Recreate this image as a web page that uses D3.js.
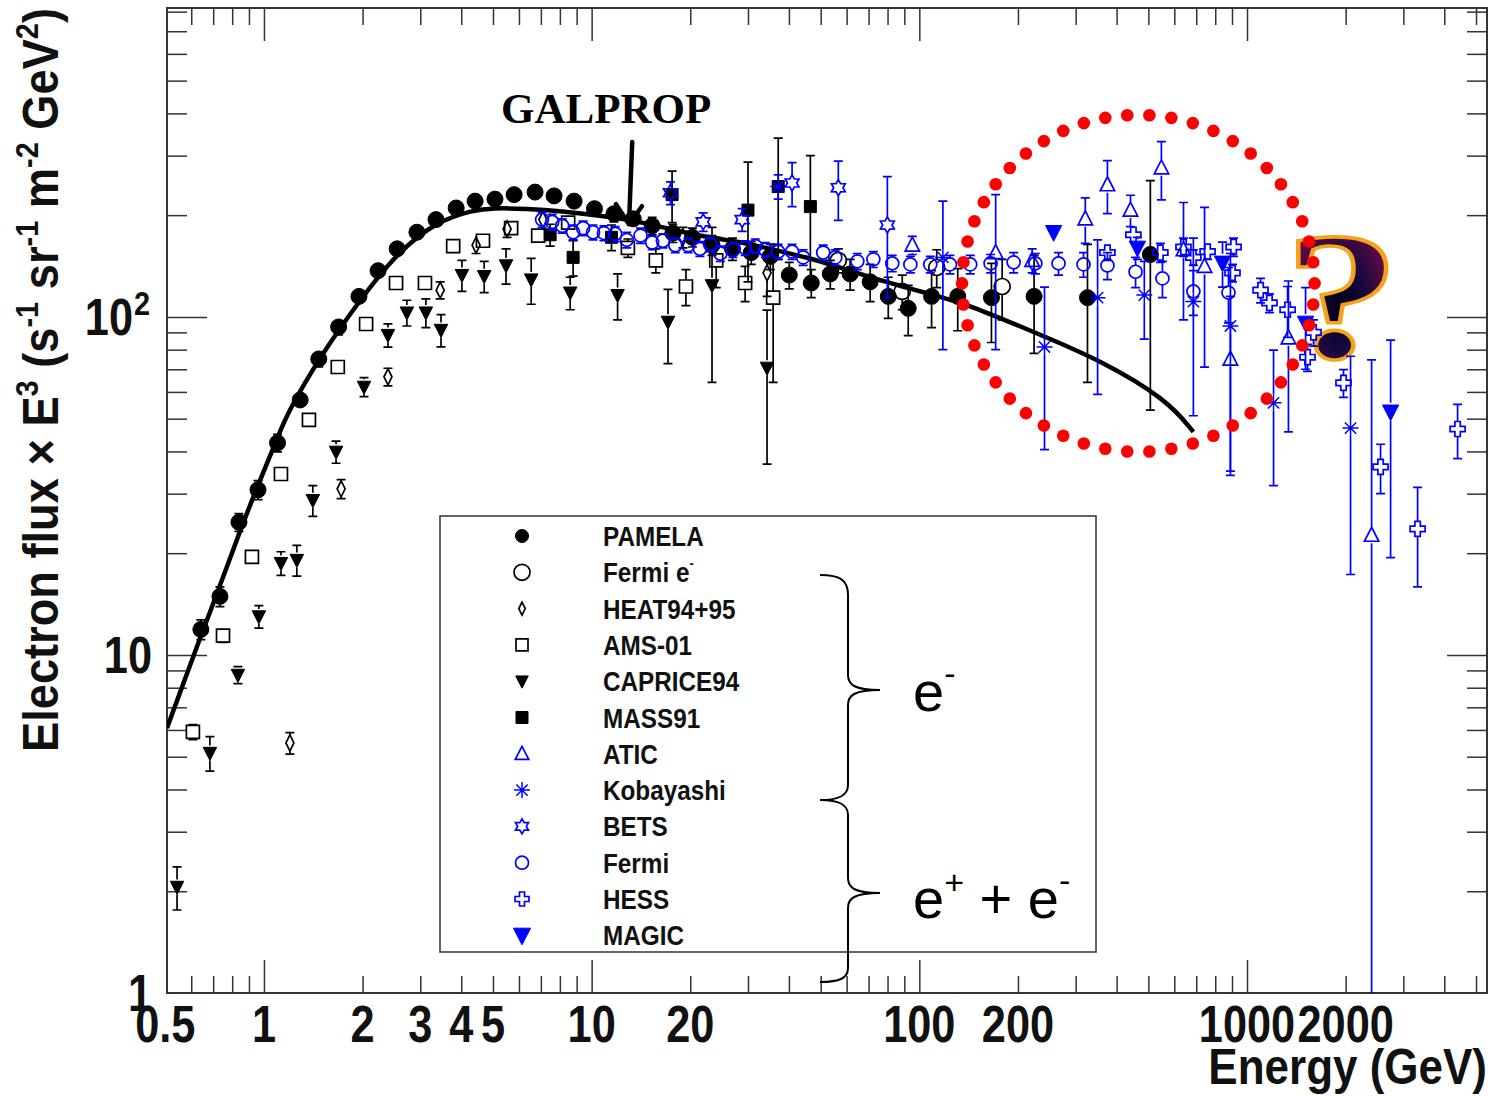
<!DOCTYPE html>
<html><head><meta charset="utf-8">
<script src="https://cdn.jsdelivr.net/npm/d3@7"></script>
<style>body{margin:0;background:#fff}svg{display:block}</style>
</head><body>
<svg id="c" width="1493" height="1097"></svg>
<script>
// ---------------- DATA ----------------
const xMajorTicks=[1,10,100,1000];
const xTickLabels=[0.5,1,2,3,4,5,10,20,100,200,1000,2000];
const yMajorTicks=[10,100];
const yTickLabels=[[1,"1",""],[10,"10",""],[100,"10","2"]];

const galE=[0.506,0.642,0.734,0.845,0.959,1.103,1.18,1.48,1.96,2.55,3.38,4.35,5.00,6.35,8.01,11.2,14.1,17.7,22.5,28.4,35.8,45.5,57.4,72.4,91.9,114,140,223,357,572,686];
const galF=[6.08,11.4,16.0,23.3,31.8,44.2,52.0,76.1,112,155,192,207,210,209,206,198,191,181,172,167,158,150,140,130,122,115,109,90.3,74.6,56.8,45.7];

const pamelaE=[0.642,0.734,0.839,0.959,1.10,1.29,1.47,1.69,1.95,2.23,2.55,2.93,3.35,3.86,4.41,5.07,5.80,6.72,7.68,8.84,10.2,11.7,13.4,15.3,17.7,20.3,23.3,26.9,30.7,35.1,40.1,46.8,53.5,61.5,70.8,80.4,92.5,109,131,166,224,326,507];
const pamelaF=[11.9,14.9,24.7,30.8,42.4,56.8,75.1,93.4,115,137,159,178,194,210,220,223,230,234,228,220,209,202,195,186,177,172,163,159,155,151,133,126,134,134,127,115,106,115,115,114,115,114,153];
const pamelaErr=[0.8,1,1.5,2,2.5,3,4,5,6,7,8,9,10,11,11,11,12,12,12,11,11,11,10,11,11,11,11,12,12,13,12,12,13,14,16,16,18,22,24,30,37,50,100];

const fermiElE=[56.6,88.7,113,179];
const fermiElF=[147,119,140,123];
const fermiElErr=[12,14,18,25];

const heatE=[1.20,1.72,2.39,3.45,4.44,5.52,7.1,19.0,34.3];
const heatF=[5.49,31.0,66.5,120,163,182,194,172,135];
const heatErr=[0.4,2,4,7,9,10,10,12,20];

const amsE=[0.607,0.750,0.919,1.127,1.372,1.68,2.05,2.53,3.10,3.78,4.66,5.68,6.87,8.48,12.9,15.7,19.4,24.0,29.4,35.8];
const amsF=[5.92,11.4,19.5,34.3,49.6,71.1,95.3,126,126,162,168,183,174,190,160,147,123,147,126,114];
const amsErr=[0.3,0.5,0.8,1.3,2,2.5,3.5,4,4,5,6,6,7,8,10,12,15,25,15,50];

const capriceE=[0.543,0.684,0.833,0.965,1.127,1.26,1.41,1.66,2.02,2.39,2.73,3.12,3.47,4.02,4.70,5.48,6.54,8.60,12.0,17.1,23.3,34.3];
const capriceF=[2.06,5.13,8.73,13.0,18.7,19.1,28.7,39.9,62.1,88.4,103,103,91.5,133,132,142,129,118,116,96.7,124,70.7];
const capriceErr=[0.3,0.6,0.5,1,1.5,2,3,3,4,7,9,10,10,14,14,17,20,13,18,24,60,34];

const massE=[7.47,8.78,11.5,17.6,30.0,37.1,46.5];
const massF=[175,150,172,230,207,243,212];
const massErr=[13,18,15,40,80,95,88];

const aticE=[95.2,171,221,321,375,441,548,640,742,890,1338,2400];
const aticF=[163,155,147,195,246,207,276,158,141,75,86.7,22.6];
const aticErr=[10,75,12,30,44,22,54,60,70,40,41,52];

const kobE=[37.1,118,241,350,486,686,890,1205,2070];
const kobF=[243,150,81.5,114,116,111,94,55.7,46.9];
const kobErr=[20,70,41,55,30,60,60,24,29.6];

const betsE=[17.4,21.9,28.8,40.9,56.6,79.9];
const betsF=[233,191,194,249,241,187];
const betsErr=[18,12,15,37,48,73];

const fermiE=[7.06,7.58,8.13,8.78,9.42,10.1,10.9,11.8,12.8,14.1,15.3,16.5,18.0,19.7,21.4,23.0,24.7,27.0,29.4,31.6,33.9,37.1,40.9,44.2,50.9,55.4,64.7,72.4,82.7,93.9,108,124,143,165,194,226,266,317,375,457,552,686,878];
const fermiF=[194,191,186,178,183,178,177,176,169,174,166,168,163,163,159,164,154,158,160,162,158,156,156,150,155,150,146,148,144,143,143,143,143,144,145,144,144,143,142,136,130,119,118];
const fermiErr=[10,10,9,9,9,9,9,9,9,9,8,8,8,8,8,8,8,8,8,8,8,8,8,8,8,8,8,8,8,8,8,9,9,9,10,10,11,12,13,14,16,18,22];

const hessE=[375,450,544,640,686,758,910,903,1100,1171,1330,1530,1596,1970,2556,3316,4392];
const hessF=[155,175,155,161,150,156,161,135,120,110,105,76,90,63.8,36.0,23.6,46.6];
const hessErr=[8,8,10,10,8,8,10,8,10,7,18,7,8,6,6,7.7,8.5];

const magicE=[257,463,842,1509,2743];
const magicF=[178,160,144.5,96,52.4];
const magicErr=[10,12,22,26,33];

const legendNames=["PAMELA","Fermi e","HEAT94+95","AMS-01","CAPRICE94","MASS91","ATIC","Kobayashi","BETS","Fermi","HESS","MAGIC"];

// annotations in data coordinates
const ellipseE=[135,1608];
const ellipseF=[39.9,396];
const ellipseDots=50;
const arrowE=[13.3,13.0];
const arrowF=[329,188];

// ---------------- SETUP ----------------
const L=167,R=1487,T=8,B=993;
const BLUE="#0000ff";
const x=d3.scaleLog().domain([0.506,5400]).range([L,R]);
const y=d3.scaleLog().domain([1,820]).range([B,T]);
const svg=d3.select("#c");
const defs=svg.append("defs");
defs.append("clipPath").attr("id","plot").append("rect").attr("x",L).attr("y",T).attr("width",R-L).attr("height",B-T);
const rg=defs.append("radialGradient").attr("id","qg").attr("cx","48%").attr("cy","55%").attr("r","60%");
[["0%","#000018"],["35%","#14083e"],["70%","#5a0a44"],["100%","#9a1a3a"]].forEach(s=>rg.append("stop").attr("offset",s[0]).attr("stop-color",s[1]));

const SANS="'Liberation Sans', Arial, Helvetica, sans-serif";

// ---------------- AXES ----------------
const xMinor=[];
for(let d=-1;d<=3;d++)for(let m=2;m<=9;m++){const v=m*Math.pow(10,d);if(v>0.506&&v<5400)xMinor.push(v);}
const yMinor=[];
for(let d=0;d<=2;d++)for(let m=2;m<=9;m++){const v=m*Math.pow(10,d);if(v<820)yMinor.push(v);}

function axisG(axis,tx,ty){
  const g=svg.append("g").attr("transform",`translate(${tx},${ty})`).call(axis);
  g.select(".domain").remove();
  g.selectAll("line").attr("stroke","#333").attr("stroke-width",1.5);
  g.selectAll("text").remove();
}
axisG(d3.axisBottom(x).tickValues(xMinor).tickSize(-17).tickFormat(""),0,B);
axisG(d3.axisBottom(x).tickValues(xMajorTicks).tickSize(-33).tickFormat(""),0,B);
axisG(d3.axisTop(x).tickValues(xMinor).tickSize(-17).tickFormat(""),0,T);
axisG(d3.axisTop(x).tickValues(xMajorTicks).tickSize(-33).tickFormat(""),0,T);
axisG(d3.axisLeft(y).tickValues(yMinor.filter(v=>v!==10&&v!==100)).tickSize(-20).tickFormat(""),L,0);
axisG(d3.axisLeft(y).tickValues(yMajorTicks).tickSize(-40).tickFormat(""),L,0);
axisG(d3.axisRight(y).tickValues(yMinor.filter(v=>v!==10&&v!==100)).tickSize(-20).tickFormat(""),R,0);
axisG(d3.axisRight(y).tickValues(yMajorTicks).tickSize(-40).tickFormat(""),R,0);
svg.append("rect").attr("x",L).attr("y",T).attr("width",R-L).attr("height",B-T).attr("fill","none").attr("stroke","#333").attr("stroke-width",2);

// tick labels
xTickLabels.forEach(v=>{
  svg.append("text").attr("transform",`translate(${x(v)},1042) scale(0.85,1)`)
    .attr("text-anchor","middle").attr("font-family",SANS).attr("font-weight","bold").attr("font-size",51).attr("fill","#111").text(v);
});
yTickLabels.forEach(([v,t,sup])=>{
  svg.append("text").attr("transform",`translate(${sup?133:152},${y(v)+18}) scale(0.85,1)`)
    .attr("text-anchor","end").attr("font-family",SANS).attr("font-weight","bold").attr("font-size",51).attr("fill","#111").text(t);
  if(sup){svg.append("text").attr("transform",`translate(134,${y(v)-2}) scale(0.85,1)`)
    .attr("font-family",SANS).attr("font-weight","bold").attr("font-size",34).attr("fill","#111").text(sup);}
});
// axis titles
svg.append("text").attr("transform","translate(1487,1084) scale(0.88,1)").attr("text-anchor","end")
  .attr("font-family",SANS).attr("font-weight","bold").attr("font-size",50).attr("fill","#111").text("Energy (GeV)");
const yt=svg.append("text").attr("transform","translate(58,752) rotate(-90)").attr("font-family",SANS)
  .attr("font-weight","bold").attr("font-size",50).attr("fill","#111").attr("textLength",744).attr("lengthAdjust","spacingAndGlyphs");
[["Electron flux \u00d7 E",0],["3",1],[" (s",0],["-1",1],[" sr",0],["-1",1],[" m",0],["-2",1],[" GeV",0],["2",1],[")",0]]
 .forEach(([t,s],i,arr)=>{
   const prev=i>0?arr[i-1][1]:0;
   const dy=s&&!prev?-20:(!s&&prev?20:0);
   yt.append("tspan").attr("dy",dy).attr("font-size",s?32:50).text(t);
 });

// ---------------- QUESTION MARK ----------------
svg.append("text").attr("transform","translate(1342,357) scale(1.3,1.03)").attr("text-anchor","middle")
  .attr("font-family","'Liberation Serif','Times New Roman',serif").attr("font-weight","bold").attr("font-size",178)
  .attr("fill","url(#qg)").attr("stroke","#f7a21b").attr("stroke-width",3.5).text("?");

// ---------------- MARKERS ----------------
function markerPath(type,s){
  const p=d3.path();
  if(type==="circle"){p.moveTo(s,0);p.arc(0,0,s,0,2*Math.PI);p.closePath();}
  else if(type==="square"){p.rect(-s,-s,2*s,2*s);}
  else if(type==="triUp"){p.moveTo(0,-s);p.lineTo(s*0.9,s*0.75);p.lineTo(-s*0.9,s*0.75);p.closePath();}
  else if(type==="triDown"){p.moveTo(0,s);p.lineTo(s*0.9,-s*0.75);p.lineTo(-s*0.9,-s*0.75);p.closePath();}
  else if(type==="diamond"){p.moveTo(0,-s);p.lineTo(s*0.5,0);p.lineTo(0,s);p.lineTo(-s*0.5,0);p.closePath();}
  else if(type==="asterisk"){for(let k=0;k<4;k++){const a=k*Math.PI/4;p.moveTo(-s*Math.cos(a),-s*Math.sin(a));p.lineTo(s*Math.cos(a),s*Math.sin(a));}}
  else if(type==="cross"){const t=s*0.36;const pts=[[-t,-s],[t,-s],[t,-t],[s,-t],[s,t],[t,t],[t,s],[-t,s],[-t,t],[-s,t],[-s,-t],[-t,-t]];
    p.moveTo(pts[0][0],pts[0][1]);pts.slice(1).forEach(q=>p.lineTo(q[0],q[1]));p.closePath();}
  else if(type==="hexagram"){for(let k=0;k<12;k++){const a=-Math.PI/2+k*Math.PI/6;const r=k%2?s*0.58:s;
    const px=r*Math.cos(a),py=r*Math.sin(a);k?p.lineTo(px,py):p.moveTo(px,py);}p.closePath();}
  return p.toString();
}

const series=[
 {E:pamelaE,F:pamelaF,err:pamelaErr,type:"circle",s:8,ls:6.5,color:"#000",fill:true},
 {E:fermiElE,F:fermiElF,err:fermiElErr,type:"circle",s:8,ls:8,color:"#000",fill:false},
 {E:heatE,F:heatF,err:heatErr,type:"diamond",s:8,ls:6.5,color:"#000",fill:false},
 {E:amsE,F:amsF,err:amsErr,type:"square",s:6.5,ls:6,color:"#000",fill:false},
 {E:capriceE,F:capriceF,err:capriceErr,type:"triDown",s:7.5,ls:7,color:"#000",fill:true},
 {E:massE,F:massF,err:massErr,type:"square",s:6,ls:6,color:"#000",fill:true},
 {E:aticE,F:aticF,err:aticErr,type:"triUp",s:8,ls:7.5,color:BLUE,fill:false},
 {E:kobE,F:kobF,err:kobErr,type:"asterisk",s:8,ls:8,color:BLUE,fill:false},
 {E:betsE,F:betsF,err:betsErr,type:"hexagram",s:8,ls:7.5,color:BLUE,fill:false},
 {E:fermiE,F:fermiF,err:fermiErr,type:"circle",s:6.5,ls:6.5,color:BLUE,fill:false},
 {E:hessE,F:hessF,err:hessErr,type:"cross",s:7.5,ls:7,color:BLUE,fill:false},
 {E:magicE,F:magicF,err:magicErr,type:"triDown",s:9,ls:9.5,color:BLUE,fill:true}
];

const plot=svg.append("g").attr("clip-path","url(#plot)");
// GALPROP curve
plot.append("path").datum(galE.map((e,i)=>[e,galF[i]]))
  .attr("d",d3.line().x(d=>x(d[0])).y(d=>y(d[1])).curve(d3.curveBasis))
  .attr("fill","none").attr("stroke","#000").attr("stroke-width",4.5);

function drawMarker(g,ser,cx,cy,s){
  const m=g.append("path").attr("transform",`translate(${cx},${cy})`).attr("d",markerPath(ser.type,s));
  if(ser.type==="asterisk"){m.attr("fill","none").attr("stroke",ser.color).attr("stroke-width",1.5);}
  else if(ser.fill){m.attr("fill",ser.color).attr("stroke",ser.color).attr("stroke-width",1);}
  else{m.attr("fill","none").attr("stroke",ser.color).attr("stroke-width",1.7);}
}

series.forEach(ser=>{
  const g=plot.append("g");
  ser.E.forEach((e,i)=>{
    const f=ser.F[i],er=ser.err[i];
    const cx=x(e),cy=y(f),gap=ser.s;
    const yh=y(f+er);
    const clipLo=f-er<=1;
    const yl=clipLo?B+10:y(f-er);
    const p=d3.path();
    if(yh<cy-gap){p.moveTo(cx,yh);p.lineTo(cx,cy-gap);p.moveTo(cx-4.5,yh);p.lineTo(cx+4.5,yh);}
    if(yl>cy+gap){p.moveTo(cx,cy+gap);p.lineTo(cx,yl);if(!clipLo){p.moveTo(cx-4.5,yl);p.lineTo(cx+4.5,yl);}}
    g.append("path").attr("d",p.toString()).attr("fill","none").attr("stroke",ser.color).attr("stroke-width",1.7);
    drawMarker(g,ser,cx,cy,ser.s);
  });
});

// ---------------- LEGEND ----------------
svg.append("rect").attr("x",440).attr("y",516).attr("width",656).attr("height",436)
  .attr("fill","none").attr("stroke","#333").attr("stroke-width",1.5);
legendNames.forEach((n,i)=>{
  const cy=536+i*36.3;
  drawMarker(svg,series[i],522,cy,series[i].ls);
  const t=svg.append("text").attr("transform",`translate(603,${cy+10}) scale(0.9,1)`).attr("font-family",SANS)
    .attr("font-weight","bold").attr("font-size",27).attr("fill","#111").text(n);
  if(i===1)t.append("tspan").attr("dy",-14).attr("font-size",14).text("-");
});
// braces
svg.append("path").attr("d","M820,575 C840,575 848,580 848,595 L848,675 C848,685 855,690 880,690 C855,690 848,695 848,705 L848,785 C848,795 840,800 820,800")
  .attr("fill","none").attr("stroke","#000").attr("stroke-width",2);
svg.append("path").attr("d","M820,800 C840,800 848,805 848,815 L848,878 C848,888 855,893 880,893 C855,893 848,898 848,908 L848,968 C848,978 840,982 820,982")
  .attr("fill","none").attr("stroke","#000").attr("stroke-width",2);
const e1=svg.append("text").attr("x",913).attr("y",711).attr("font-family",SANS).attr("font-size",56).attr("fill","#000").text("e");
e1.append("tspan").attr("dy",-26).attr("font-size",34).text("-");
const e2=svg.append("text").attr("x",913).attr("y",918).attr("font-family",SANS).attr("font-size",56).attr("fill","#000").text("e");
e2.append("tspan").attr("dy",-24).attr("font-size",34).text("+");
e2.append("tspan").attr("dy",24).text(" + e");
e2.append("tspan").attr("dy",-26).attr("font-size",34).text("-");

// ---------------- GALPROP LABEL + ARROW ----------------
svg.append("text").attr("x",501).attr("y",123).attr("font-family","'Liberation Serif','Times New Roman',serif")
  .attr("font-weight","bold").attr("font-size",43).attr("fill","#000").text("GALPROP");
const ax0=x(arrowE[0]),ay0=y(arrowF[0]),ax1=x(arrowE[1]),ay1=y(arrowF[1]);
svg.append("path").attr("d",`M${ax0},${ay0} L${ax1},${ay1} M${ax1-13},${ay1-20} L${ax1},${ay1} L${ax1+13},${ay1-18}`)
  .attr("fill","none").attr("stroke","#000").attr("stroke-width",4.5).attr("stroke-linecap","round").attr("stroke-linejoin","round");

// ---------------- RED DOTTED ELLIPSE ----------------
const ecx=(x(ellipseE[0])+x(ellipseE[1]))/2, erx=(x(ellipseE[1])-x(ellipseE[0]))/2;
const ecy=(y(ellipseF[0])+y(ellipseF[1]))/2, ery=(y(ellipseF[0])-y(ellipseF[1]))/2;
const dots=d3.range(ellipseDots).map(k=>-Math.PI/2+(k+0.5)*2*Math.PI/ellipseDots);
svg.append("g").selectAll("circle").data(dots).join("circle")
  .attr("cx",a=>ecx+erx*Math.cos(a)).attr("cy",a=>ecy+ery*Math.sin(a)).attr("r",6.3).attr("fill","#ff0000");
</script>
</body></html>
